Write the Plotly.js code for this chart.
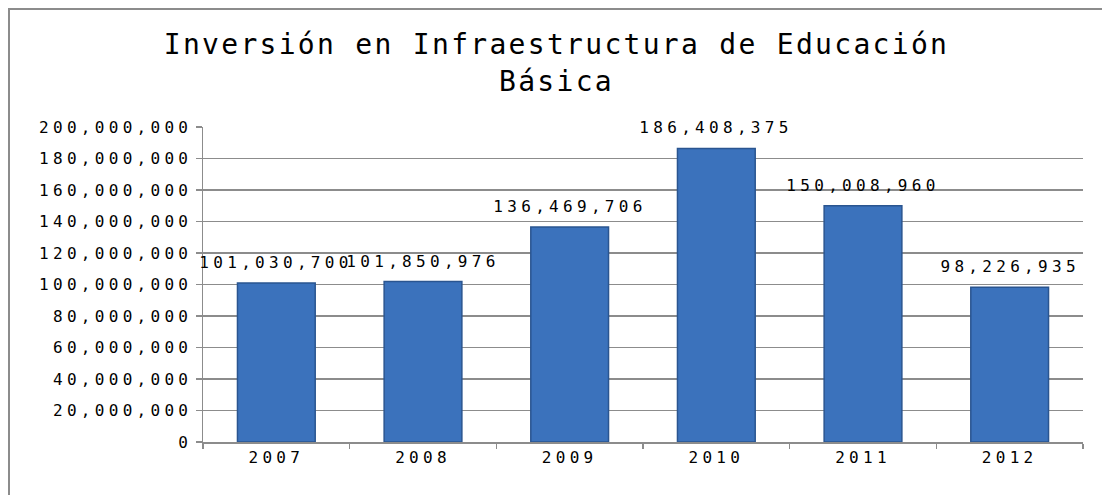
<!DOCTYPE html>
<html>
<head>
<meta charset="utf-8">
<script src="https://cdn.plot.ly/plotly-3.0.1.min.js"></script>
<style>
  body { margin: 0; background: #fff; overflow: hidden; }
  #grafica { position: absolute; left: 0; top: 0; width: 1102px; height: 495px; }
  #marco { position: absolute; left: 8px; top: 8px; width: 1200px; height: 600px;
           border: 2px solid #8c8c8c; pointer-events: none; box-sizing: border-box; }
  #grafica .xtick text, #grafica .ytick text, #grafica .annotation-text { letter-spacing: 4.3px; }
  #grafica .gtitle { letter-spacing: 2.3px; }
</style>
</head>
<body>
<div id="grafica"></div>
<div id="marco"></div>
<script>
// Datos del grafico
var anios = ['2007', '2008', '2009', '2010', '2011', '2012'];
var inversion = [101030700, 101850976, 136469706, 186408375, 150008960, 98226935];
var etiquetas = ['101,030,700', '101,850,976', '136,469,706', '186,408,375', '150,008,960', '98,226,935'];

var fuente = 'DejaVu Sans Mono, Liberation Mono, monospace';

var trazaBarras = {
    x: anios,
    y: inversion,
    type: 'bar',
    marker: {
        color: '#3b72bc',
        line: { color: '#2a5590', width: 1.5 }
    },
    hoverinfo: 'none'
};

// etiquetas de valor encima de cada barra (x = indice de la categoria)
var notas = [];
for (var i = 0; i < anios.length; i++) {
    notas.push({
        x: i,
        y: inversion[i],
        text: etiquetas[i],
        showarrow: false,
        yanchor: 'bottom',
        yshift: 9,
        font: { family: fuente, size: 16, color: '#000' }
    });
}

var layout = {
    width: 1102,
    height: 495,
    margin: { l: 203, r: 19, t: 127, b: 53 },
    paper_bgcolor: '#fff',
    plot_bgcolor: '#fff',
    showlegend: false,
    bargap: 0.47,
    annotations: notas,
    title: {
        text: 'Inversión en Infraestructura de Educación<br>Básica',
        font: { family: fuente, size: 28, color: '#000' },
        x: 0.505,
        xref: 'container',
        xanchor: 'center',
        y: 0.89,
        yref: 'container',
        yanchor: 'middle'
    },
    xaxis: {
        type: 'category',
        range: [-0.5, anios.length - 0.5],
        tickson: 'boundaries',
        ticks: 'outside',
        ticklen: 5,
        tickcolor: '#8c8c8c',
        tickwidth: 1.5,
        showline: true,
        linecolor: '#8c8c8c',
        linewidth: 1.5,
        showgrid: false,
        tickfont: { family: fuente, size: 16, color: '#000' }
    },
    yaxis: {
        range: [0, 200000000],
        dtick: 20000000,
        tickformat: ',d',
        ticks: 'outside',
        ticklen: 6,
        tickcolor: '#8c8c8c',
        tickwidth: 1.5,
        showline: true,
        linecolor: '#8c8c8c',
        linewidth: 1.5,
        showgrid: true,
        gridcolor: '#8c8c8c',
        gridwidth: 1.5,
        zeroline: false,
        tickfont: { family: fuente, size: 16, color: '#000' }
    }
};

var config = { staticPlot: true };

Plotly.newPlot('grafica', [trazaBarras], layout, config);
</script>
</body>
</html>
